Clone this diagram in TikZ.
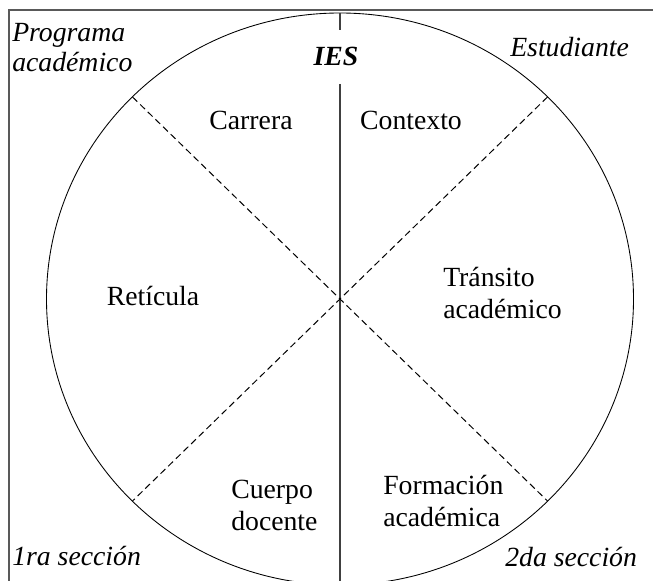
\documentclass[tikz,border=0pt]{standalone}
\usepackage{fontspec}
\setmainfont{Liberation Serif}
\begin{document}
\begin{tikzpicture}
[
    x=0.75pt, y=-0.75pt,
    every node/.style={inner sep=0pt, font=\fontsize{20.8}{23.5}\selectfont},
    corner/.style={font=\fontsize{20.8}{23}\selectfont\itshape, align=left},
    sector/.style={align=left},
    divider/.style={dash pattern=on 5pt off 3pt, line width=0.75pt}
]
    \useasboundingbox (0,0) rectangle (653,581);
    \clip (0,0) rectangle (653,581);
    \draw [black!65, line width=0.8pt] (9,600) -- (9,10) -- (670,10);

    \coordinate (O) at (340,299);
    \coordinate (top) at (340,13);
    \coordinate (gapa) at (340,30);
    \coordinate (gapb) at (340,84);
    \coordinate (bottom) at (340,590);
    \coordinate (ul) at (132.5,97);
    \coordinate (ur) at (547.5,97);
    \coordinate (ll) at (132.5,501);
    \coordinate (lr) at (547.5,501);

    \draw [line width=0.65pt] (O) ellipse [x radius=293.5, y radius=286];
    \draw [black!75, line width=1pt] (top) -- (gapa);
    \draw [black!75, line width=1pt] (gapb) -- (bottom);
    \draw [divider] (ul) -- (lr);
    \draw [divider] (ur) -- (ll);

    \node [corner, anchor=base west] (programa) at (12,72) {Programa\\académico};
    \node [font=\fontsize{20.8}{23.5}\selectfont\bfseries\itshape, anchor=base] (ies) at (336,66) {IES};
    \node [corner, anchor=base west] (estudiante) at (510,57) {Estudiante};
    \node [anchor=base] (carrera) at (251,130) {Carrera};
    \node [anchor=base] (contexto) at (411,130) {Contexto};
    \node [anchor=base] (reticula) at (153,305) {Retícula};
    \node [sector, anchor=base west] (transito) at (443,318) {Tránsito\\académico};
    \node [sector, anchor=base west] (cuerpo) at (231,530) {Cuerpo\\docente};
    \node [sector, anchor=base west] (formacion) at (383,526) {Formación\\académica};
    \node [corner, anchor=base west] (primera) at (12,565) {1ra sección};
    \node [corner, anchor=base west] (segunda) at (505,566) {2da sección};
\end{tikzpicture}
\end{document}
